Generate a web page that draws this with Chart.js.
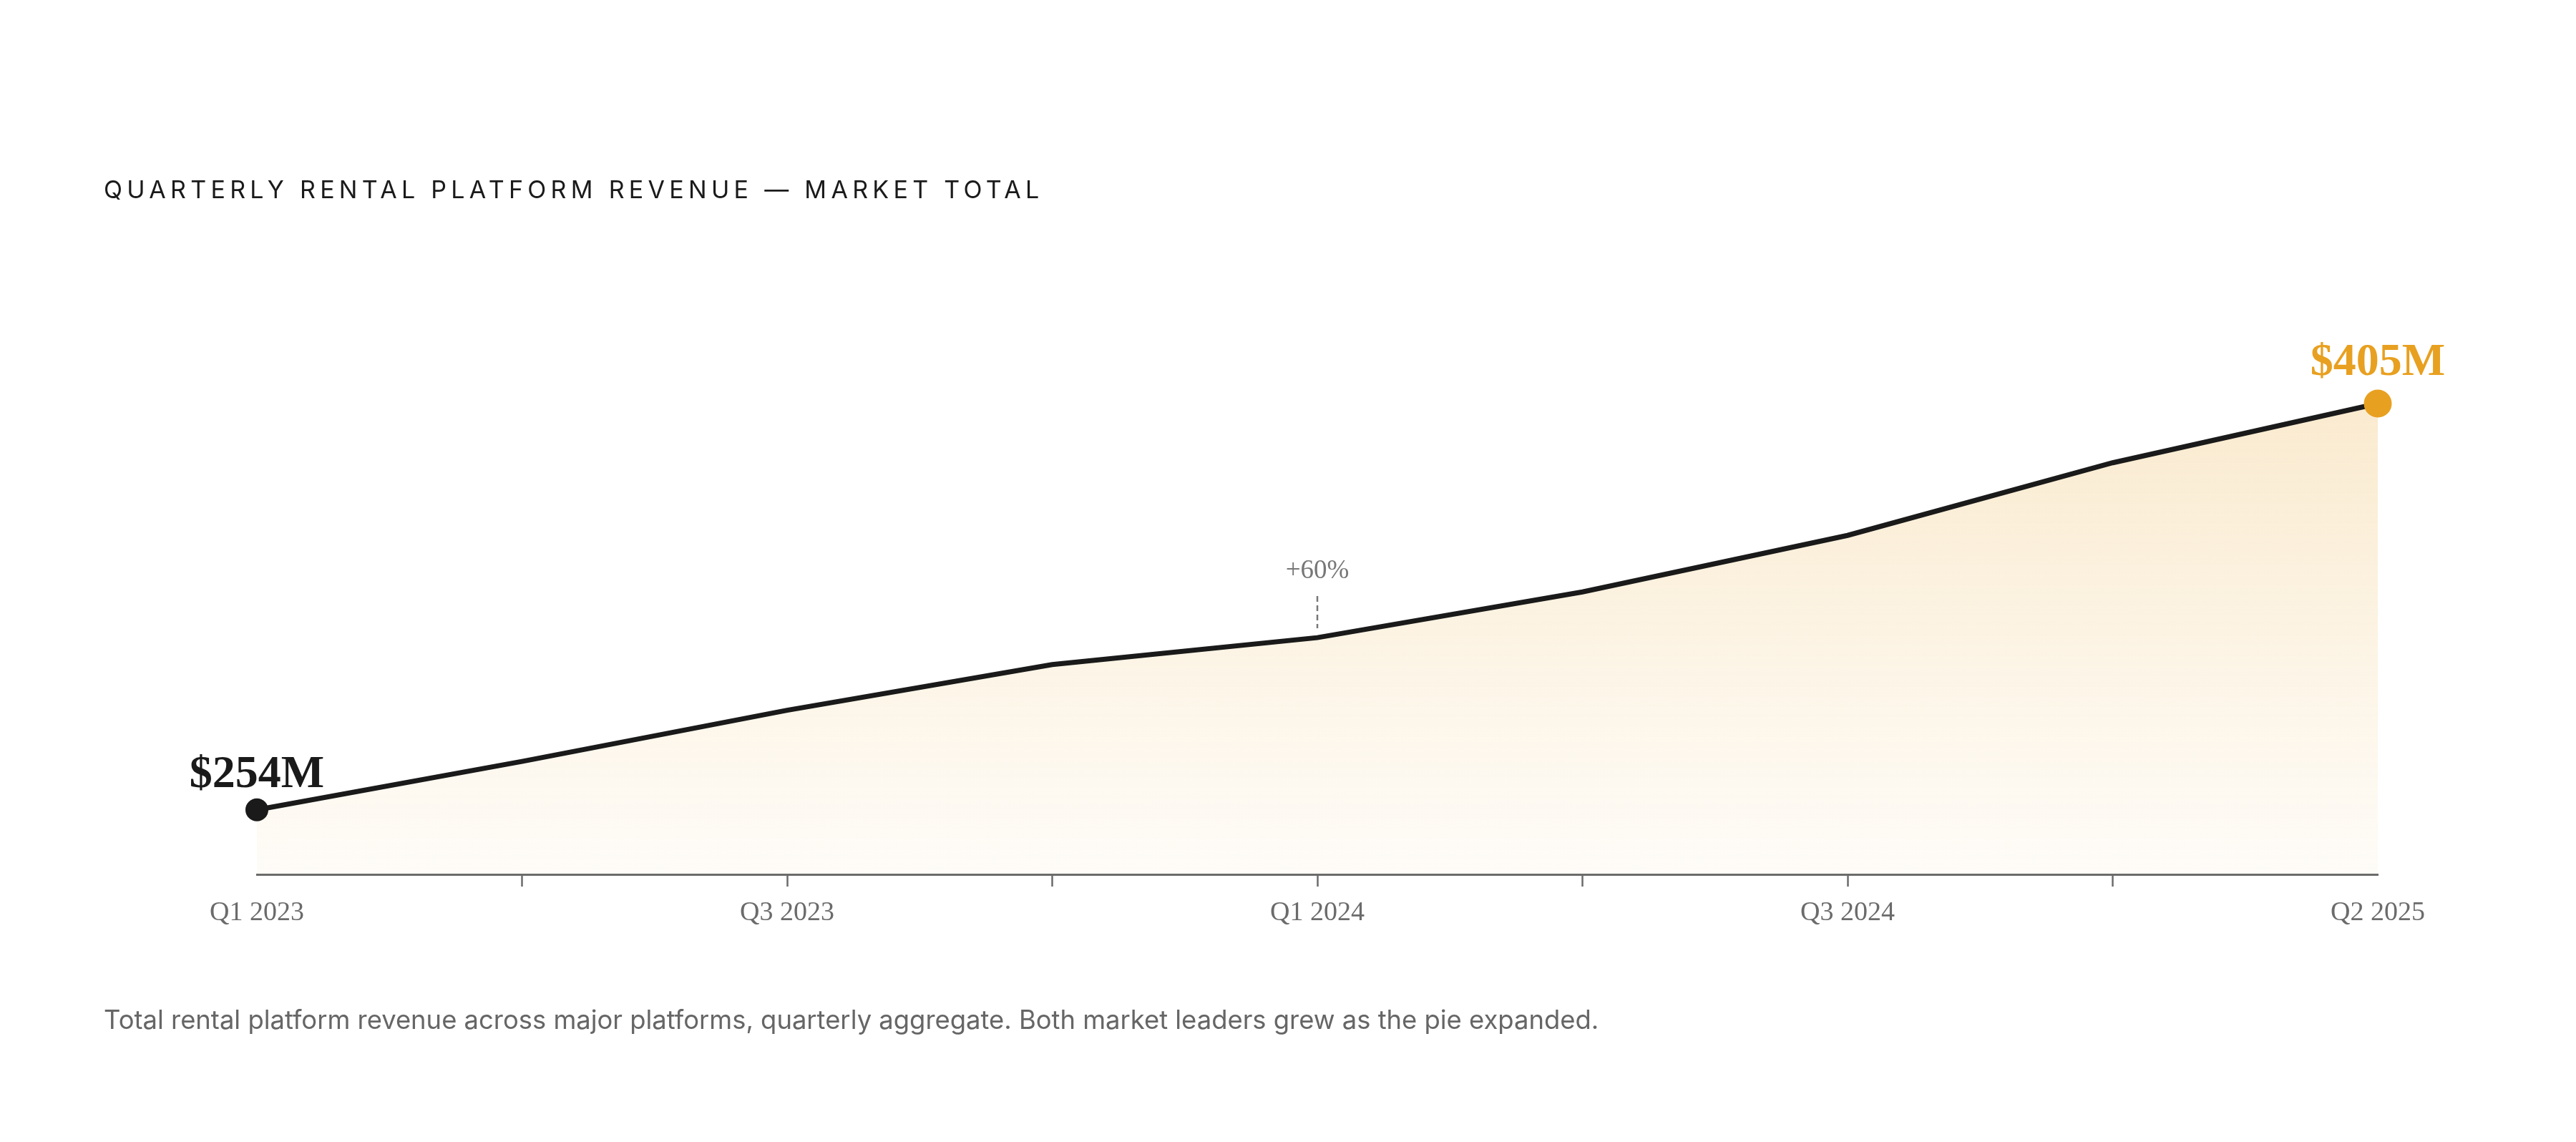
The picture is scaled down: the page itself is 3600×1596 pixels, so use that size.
<!DOCTYPE html>
<html lang="en">
<head>
  <meta charset="UTF-8">
  <title>Quarterly Rental Platform Revenue</title>
  <style>
    html, body {
      margin: 0;
      padding: 0;
      background: #ffffff;
    }
    .page {
      position: relative;
      width: 3600px;
      height: 1596px;
      overflow: hidden;
    }
    .title {
      position: absolute;
      left: 145px;
      top: 244px;
      font-family: 'Inter', 'Noto Sans', sans-serif;
      font-size: 34px;
      font-weight: 400;
      letter-spacing: 6.3px;
      color: #1a1a1a;
      white-space: nowrap;
    }
    .caption {
      position: absolute;
      left: 145px;
      top: 1403px;
      font-family: 'Inter', 'Noto Sans', sans-serif;
      font-size: 36.4px;
      color: #666666;
      white-space: nowrap;
    }
    canvas {
      position: absolute;
      left: 0;
      top: 0;
    }
  </style>
</head>
<body>
  <div class="page">
    <canvas id="revenueChart" width="3600" height="1596"></canvas>
    <div class="title">QUARTERLY RENTAL PLATFORM REVENUE — MARKET TOTAL</div>
    <div class="caption">Total rental platform revenue across major platforms, quarterly aggregate. Both market leaders grew as the pie expanded.</div>
  </div>

  <script src="https://cdn.jsdelivr.net/npm/chart.js"></script>
  <script>
    // quarters on the x axis
    const quarters = ["Q1 2023", "Q2 2023", "Q3 2023", "Q4 2023", "Q1 2024", "Q2 2024", "Q3 2024", "Q4 2024", "Q2 2025"];
    // market total revenue, $M
    const revenue = [254, 272, 291, 308, 318, 335, 356, 383, 405];
    // which quarters get a tick label
    const labelledQuarters = ["Q1 2023", "Q3 2023", "Q1 2024", "Q3 2024", "Q2 2025"];
    // growth callout
    const calloutQuarter = "Q1 2024";
    const calloutText = "+60%";

    const INK = "#1a1a1a";
    const ACCENT = "#e8a020";
    const GREY = "#6b6b6b";
    const SERIF = "'Liberation Serif', 'Times New Roman', serif";
    const last = revenue.length - 1;

    // end value labels and the +60% marker
    const annotations = {
      id: "annotations",
      afterDatasetsDraw(chart) {
        const { ctx } = chart;
        const meta = chart.getDatasetMeta(0);
        const first = meta.data[0];
        const end = meta.data[last];
        ctx.save();
        ctx.textAlign = "center";
        ctx.textBaseline = "alphabetic";
        ctx.font = "bold 64px " + SERIF;
        ctx.fillStyle = INK;
        ctx.fillText("$" + revenue[0] + "M", first.x, first.y - 32);
        ctx.fillStyle = ACCENT;
        ctx.fillText("$" + revenue[last] + "M", end.x, end.y - 40);

        const c = meta.data[quarters.indexOf(calloutQuarter)];
        ctx.strokeStyle = "#777777";
        ctx.lineWidth = 2.5;
        ctx.setLineDash([8, 5]);
        ctx.beginPath();
        ctx.moveTo(c.x, c.y - 58);
        ctx.lineTo(c.x, c.y - 13);
        ctx.stroke();
        ctx.setLineDash([]);
        ctx.font = "37px " + SERIF;
        ctx.fillStyle = "#777777";
        ctx.fillText(calloutText, c.x, c.y - 83);
        ctx.restore();
      }
    };

    const ctx = document.getElementById("revenueChart").getContext("2d");
    new Chart(ctx, {
      type: "line",
      data: {
        labels: quarters,
        datasets: [{
          data: revenue,
          borderColor: INK,
          borderWidth: 7,
          tension: 0,
          fill: "start",
          clip: false,
          backgroundColor: (context) => {
            const area = context.chart.chartArea;
            if (!area) return "rgba(232, 160, 32, 0.1)";
            const g = context.chart.ctx.createLinearGradient(0, area.top, 0, area.bottom);
            g.addColorStop(0, "rgba(232, 160, 32, 0.24)");
            g.addColorStop(1, "rgba(232, 160, 32, 0.03)");
            return g;
          },
          pointRadius: (c) => c.dataIndex === 0 ? 16 : (c.dataIndex === last ? 19.5 : 0),
          pointBackgroundColor: (c) => c.dataIndex === last ? ACCENT : INK,
          pointBorderWidth: 0,
          pointHoverRadius: 0
        }]
      },
      options: {
        responsive: false,
        animation: false,
        devicePixelRatio: 1,
        layout: {
          padding: { left: 359, right: 277, top: 470, bottom: 254 }
        },
        plugins: {
          legend: { display: false },
          tooltip: { enabled: false }
        },
        scales: {
          x: {
            offset: false,
            afterFit(scale) { scale.height = 120; },
            border: { display: true, color: GREY, width: 3 },
            grid: {
              drawOnChartArea: false,
              drawTicks: true,
              tickLength: 17,
              tickWidth: 2.5,
              tickColor: (c) => (c.index === 0 || c.index === last) ? "rgba(0,0,0,0)" : GREY
            },
            ticks: {
              autoSkip: false,
              maxRotation: 0,
              padding: 14,
              color: GREY,
              font: { family: SERIF, size: 38 },
              callback: (value, index) => labelledQuarters.includes(quarters[index]) ? quarters[index] : ""
            }
          },
          y: {
            display: false,
            min: 230,
            max: 430
          }
        }
      },
      plugins: [annotations]
    });
  </script>
</body>
</html>
